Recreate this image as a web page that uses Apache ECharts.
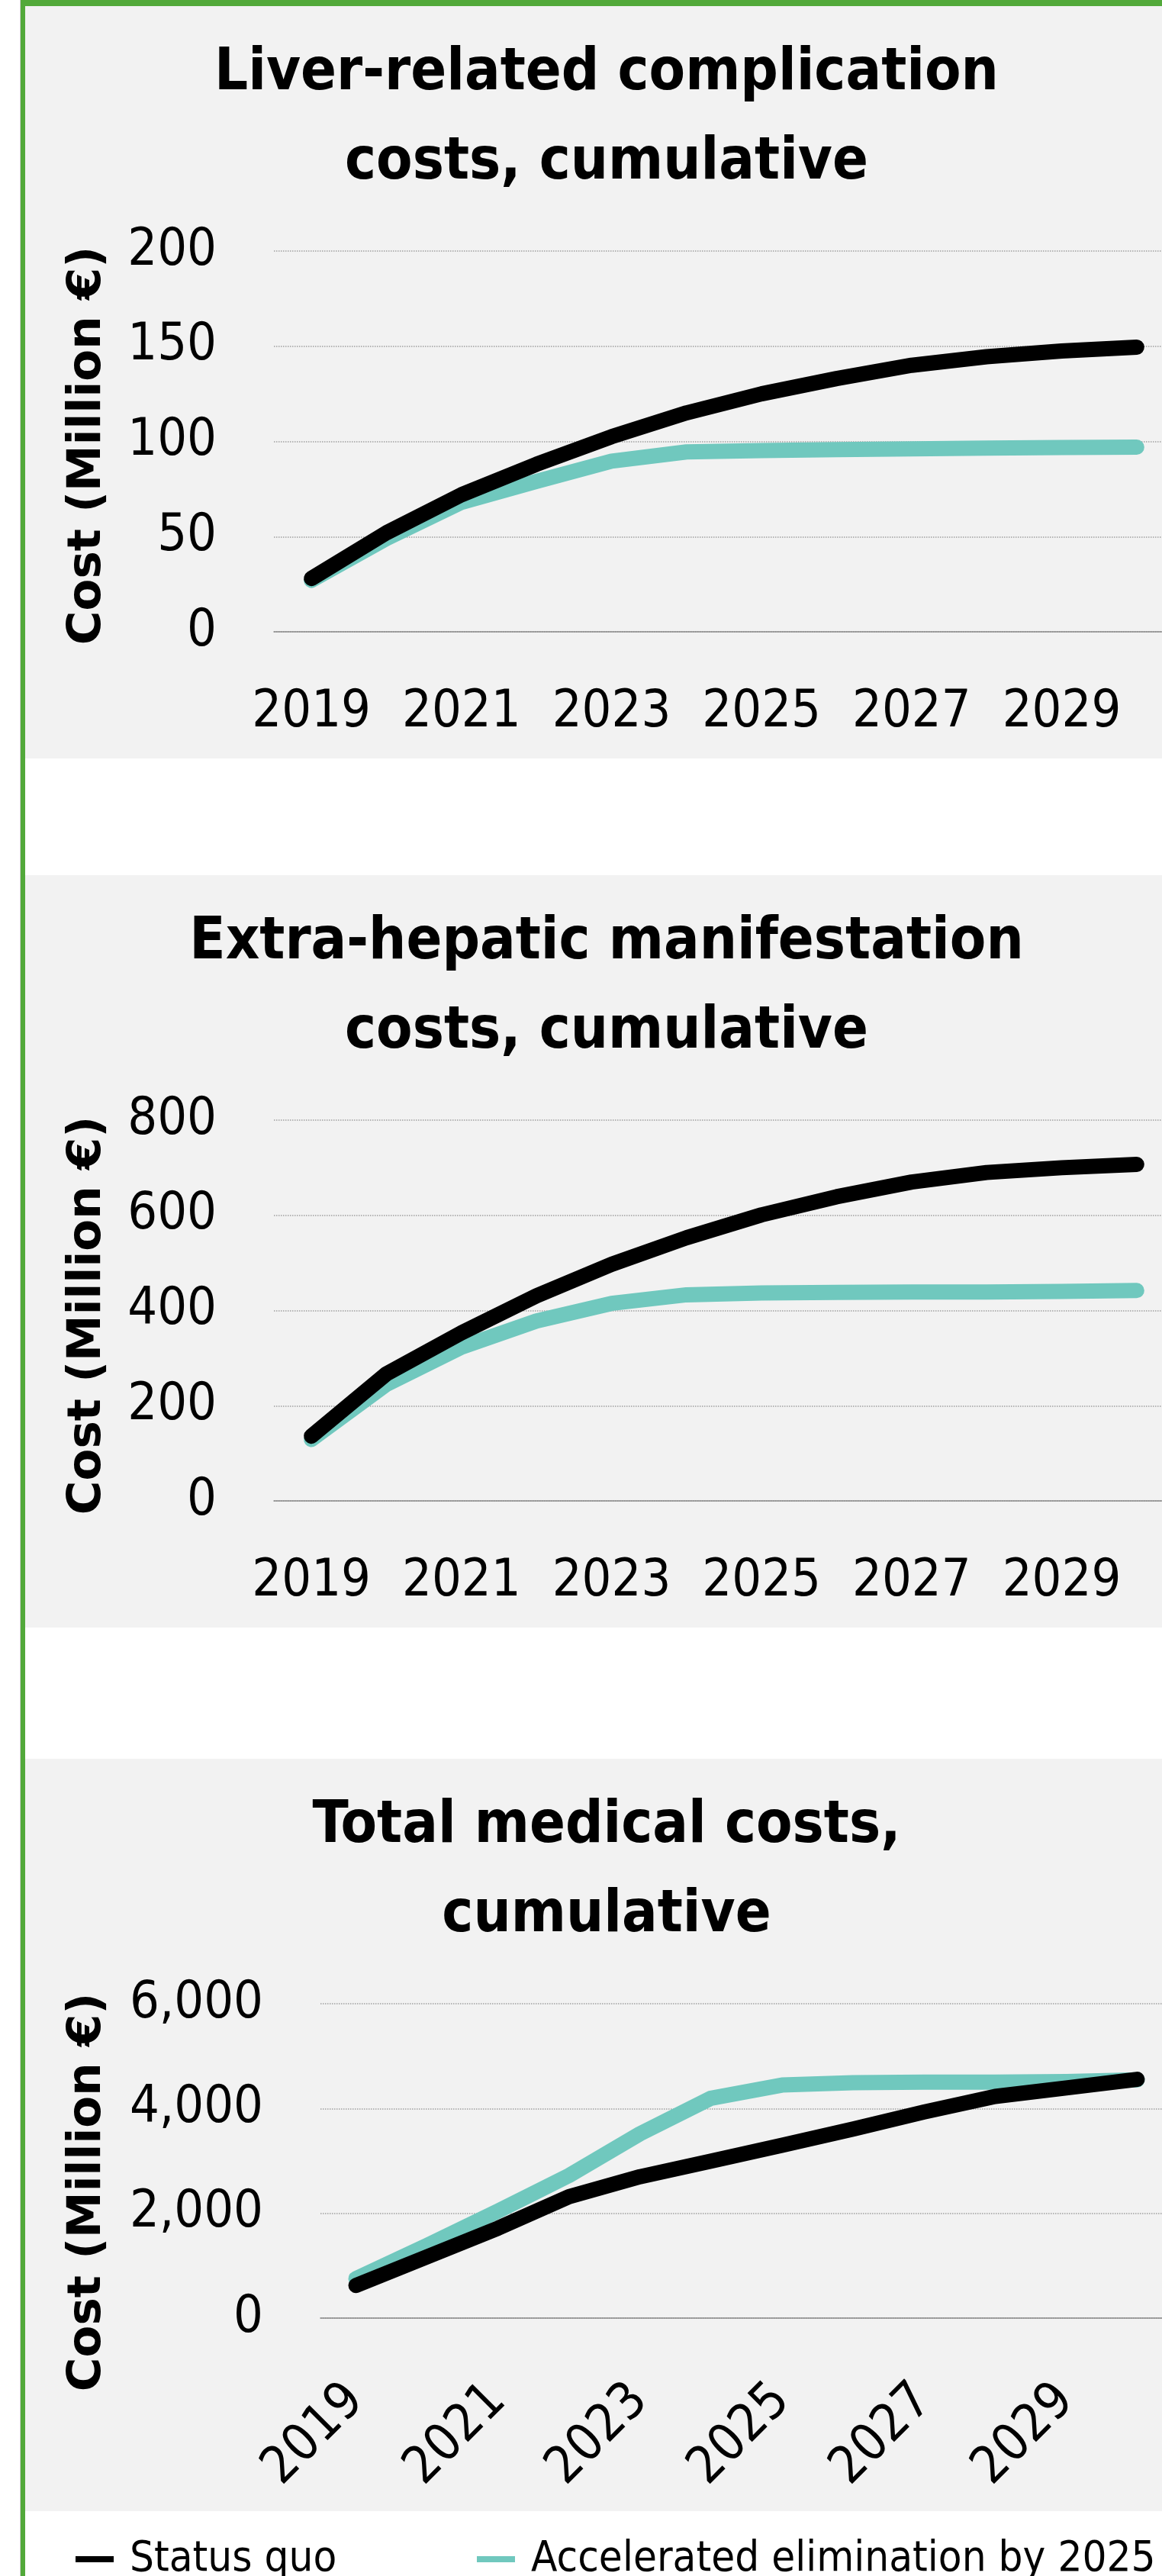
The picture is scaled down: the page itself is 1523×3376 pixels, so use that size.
<!DOCTYPE html>
<html>
<head>
<meta charset="utf-8">
<script src="https://cdn.jsdelivr.net/npm/echarts@6/dist/echarts.min.js"></script>
<style>
html,body{margin:0;padding:0;background:#fff;}
#c{width:1523px;height:3376px;}
</style>
</head>
<body>
<div id="c"></div>
<script>
// ---- data ----
const years = ['2019','2020','2021','2022','2023','2024','2025','2026','2027','2028','2029','2030'];
const seriesNames = ['Status quo', 'Accelerated elimination by 2025'];

const liverStatusQuo   = [28, 52, 72, 88, 102.5, 115, 125, 133, 140, 144.5, 147.5, 149.5];
const liverAccelerated = [27, 49, 68, 79, 89.6, 94.5, 95.2, 95.7, 96.1, 96.5, 96.8, 97];

const extraStatusQuo   = [136, 267, 353, 431, 497, 553, 601, 639, 670, 690, 700, 707];
const extraAccelerated = [129, 245, 323, 378, 415, 433, 437, 438, 439, 439, 440, 442];

const totalStatusQuo   = [623, 1169, 1716, 2317, 2699, 2995, 3300, 3607, 3934, 4230, 4393, 4557];
const totalAccelerated = [754, 1388, 2044, 2721, 3519, 4197, 4448, 4492, 4503, 4503, 4514, 4546];

const panelTitles = [
  ['Liver-related complication', 'costs, cumulative'],
  ['Extra-hepatic manifestation', 'costs, cumulative'],
  ['Total medical costs,', 'cumulative']
];
const yAxisTitle = 'Cost (Million \u20ac)';
const yMax = [200, 800, 6000];
const yStep = [50, 200, 2000];

// ---- styling ----
const FONT = "'DejaVu Sans Condensed', 'DejaVu Sans', sans-serif";
const BOLDY = "'DejaVu Sans', sans-serif";
const BLACK = '#000000';
const TEAL = '#70C8BE';
const PANEL = '#F2F2F2';
const GREEN = '#52A93A';

const panelTop = [8, 1147, 2305];
const grids = [
  {left: 359, top: 329, width: 1180, height: 499},
  {left: 359, top: 1468, width: 1180, height: 499},
  {left: 420, top: 2626, width: 1117, height: 412}
];
const yNameCenter = [584, 1724, 2873];

const chart = echarts.init(document.getElementById('c'), null, {renderer: 'canvas'});

const graphic = [];
graphic.push({type: 'rect', shape: {x: 26, y: 0, width: 1, height: 3376}, style: {fill: '#D0D0D0'}, z: -10});
graphic.push({type: 'rect', shape: {x: 27, y: 0, width: 6, height: 3376}, style: {fill: GREEN}, z: -9});
graphic.push({type: 'rect', shape: {x: 27, y: 0, width: 1496, height: 8}, style: {fill: GREEN}, z: -9});
panelTop.forEach((t, i) => {
  graphic.push({type: 'rect', shape: {x: 33, y: t, width: 1490, height: 986}, style: {fill: PANEL}, z: -10});
  const off = t - 8;
  graphic.push({type: 'text', x: 795, y: 97 + off, z: 5,
    style: {text: panelTitles[i][0], fill: '#000', fontSize: 77, fontWeight: 'bold', fontFamily: FONT, align: 'center', verticalAlign: 'middle'}});
  graphic.push({type: 'text', x: 795, y: 214 + off, z: 5,
    style: {text: panelTitles[i][1], fill: '#000', fontSize: 77, fontWeight: 'bold', fontFamily: FONT, align: 'center', verticalAlign: 'middle'}});
  graphic.push({type: 'text', x: 115, y: yNameCenter[i], rotation: Math.PI / 2, z: 5,
    style: {text: yAxisTitle, fill: '#000', fontSize: 61, fontWeight: 'bold', fontFamily: BOLDY, align: 'center', verticalAlign: 'middle'}});
});

const data = [
  [liverStatusQuo, liverAccelerated],
  [extraStatusQuo, extraAccelerated],
  [totalStatusQuo, totalAccelerated]
];

const xAxis = [], yAxis = [], series = [];
grids.forEach((g, i) => {
  xAxis.push({
    type: 'category', gridIndex: i, data: years, boundaryGap: true,
    axisLine: {show: true, lineStyle: {color: '#8C8C8C', width: 1.5}},
    axisTick: {show: false},
    axisLabel: {interval: 1, margin: i === 2 ? 98 : 72, rotate: i === 2 ? 45 : 0,
      fontSize: 68, fontFamily: FONT, color: '#000'},
    splitLine: {show: false}
  });
  yAxis.push({
    type: 'value', gridIndex: i, min: 0, max: yMax[i], interval: yStep[i],
    axisLine: {show: false}, axisTick: {show: false},
    axisLabel: {margin: 75, fontSize: 68, fontFamily: FONT, color: '#000',
      formatter: v => v.toLocaleString('en-US')},
    splitLine: {show: true, lineStyle: {color: '#A0A0A0', width: 1.5, type: [1.5, 1.5]}}
  });
  series.push({
    name: seriesNames[1], type: 'line', xAxisIndex: i, yAxisIndex: i, data: data[i][1],
    symbol: 'none', smooth: false, z: 3, silent: true,
    lineStyle: {color: TEAL, width: 20, cap: 'round', join: 'round'},
    itemStyle: {color: TEAL}
  });
  series.push({
    name: seriesNames[0], type: 'line', xAxisIndex: i, yAxisIndex: i, data: data[i][0],
    symbol: 'none', smooth: false, z: 4, silent: true,
    lineStyle: {color: BLACK, width: 20, cap: 'round', join: 'round'},
    itemStyle: {color: BLACK}
  });
});

const legendBase = {
  top: 3326, padding: 0, itemWidth: 50, itemHeight: 8, icon: 'rect', selectedMode: false,
  textStyle: {fontSize: 56, fontFamily: FONT, color: '#000', padding: [0, 0, 0, 16]}
};

chart.setOption({
  animation: false,
  backgroundColor: '#ffffff',
  grid: grids.map(g => Object.assign({containLabel: false, outerBoundsMode: 'none'}, g)),
  xAxis, yAxis, series,
  legend: [
    Object.assign({}, legendBase, {left: 99, data: [seriesNames[0]]}),
    Object.assign({}, legendBase, {left: 625, data: [seriesNames[1]]})
  ],
  graphic
});
</script>
</body>
</html>
